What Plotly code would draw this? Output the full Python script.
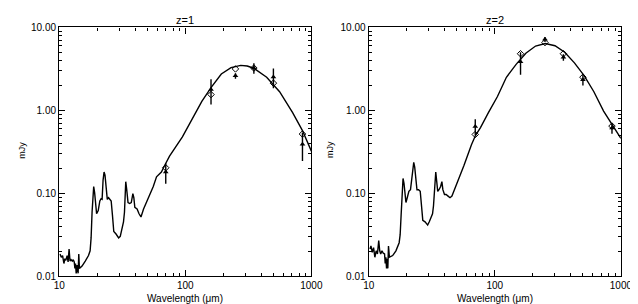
import plotly.graph_objects as go

# ---------------- data ----------------
bands = [70, 160, 250, 350, 500, 850]

# z = 1 panel
z1_diamond = [0.203, 1.55, 3.16, 3.24, 2.13, 0.518]
z1_triangle = [0.18, 1.78, 2.61, 3.24, 2.52, 0.39]
z1_err = [0.05, 0.6, 0.2, 0.47, 0.67, 0.145]

z1_model_wave = [10.15, 10.39, 10.64, 10.90, 11.09, 11.29, 11.56, 11.77, 11.98, 12.19,
                 12.41, 12.71, 12.93, 13.16, 13.32, 13.48, 13.64, 13.89, 14.13, 14.30,
                 14.47, 15.18, 16.10, 17.08, 17.59, 17.91, 18.23, 18.56, 18.78, 19.11,
                 19.45, 19.80, 20.40, 21.01, 21.51, 21.90, 22.29, 22.69, 23.09, 23.64,
                 24.07, 24.64, 25.24, 25.84, 26.46, 27.10, 28.24, 29.61, 30.50, 31.42,
                 32.36, 32.94, 33.72, 34.32, 35.15, 36.21, 37.30, 38.40, 39.09, 39.80,
                 41.48, 42.98, 44.53, 46.68, 49.53, 52.55, 55.75, 59.16, 64.64, 68.6,
                 75.0, 94.9, 113.3, 135.3, 161.6, 193.1, 230.5, 275.3, 309.9, 349.1,
                 442.1, 559.8, 710.1, 848.0, 1000.0]
z1_model_flux = [0.0185, 0.0169, 0.0177, 0.0142, 0.0162, 0.0155, 0.0177, 0.0148, 0.0212, 0.0152,
                 0.0158, 0.0152, 0.0158, 0.0148, 0.0124, 0.0142, 0.0108, 0.0136, 0.0108, 0.0185,
                 0.0124, 0.0132, 0.0152, 0.0177, 0.0202, 0.0289, 0.0590, 0.1009, 0.1206, 0.1009,
                 0.0646, 0.0565, 0.0617, 0.0807, 0.0859, 0.0844, 0.1442, 0.1802, 0.1648, 0.1009,
                 0.0844, 0.0883, 0.0844, 0.0807, 0.0540, 0.0346, 0.0322, 0.0289, 0.0302, 0.0361,
                 0.0452, 0.0590, 0.1379, 0.1103, 0.0772, 0.0752, 0.0772, 0.0991, 0.0883, 0.0675,
                 0.0646, 0.0565, 0.0517, 0.0646, 0.0786, 0.0965, 0.1206, 0.1576, 0.1802, 0.2157,
                 0.28, 0.48, 0.786, 1.283, 1.917, 2.745, 3.274, 3.49, 3.43, 3.22,
                 2.505, 1.677, 0.940, 0.574, 0.322]

# z = 2 panel
z2_diamond = [0.512, 4.82, 6.57, 4.82, 2.51, 0.646]
z2_triangle = [0.64, 3.85, 7.19, 4.36, 2.34, 0.612]
z2_err = [0.14, 1.16, 0.5, 0.4, 0.34, 0.09]

z2_model_wave = [10.24, 10.42, 10.67, 10.93, 11.19, 11.46, 11.73, 12.01, 12.23, 12.45,
                 12.75, 13.05, 13.36, 13.52, 13.68, 13.85, 14.01, 14.18, 14.35, 14.60,
                 15.49, 16.44, 17.44, 17.76, 18.07, 18.40, 18.72, 19.05, 19.40, 19.74,
                 20.21, 20.83, 21.45, 21.84, 22.36, 22.76, 23.17, 23.58, 24.14, 24.86,
                 25.62, 26.23, 26.85, 27.99, 29.35, 30.23, 31.14, 32.08, 32.65, 33.43,
                 34.03, 34.64, 35.26, 36.10, 37.18, 38.06, 38.74, 39.91, 41.11, 42.60,
                 44.14, 45.73, 47.67, 50.58, 53.65, 56.93, 59.35, 65.3, 70.4, 77.0,
                 89.0, 105.0, 123.6, 147.6, 176.3, 210.6, 251.4, 300.3, 358.5, 428.2,
                 511.3, 610.7, 729.3, 871.0, 1000.0]
z2_model_flux = [0.0212, 0.0231, 0.0194, 0.0221, 0.0169, 0.0202, 0.0185, 0.0269, 0.0202, 0.0185,
                 0.0202, 0.0189, 0.0185, 0.0142, 0.0169, 0.0124, 0.0162, 0.0124, 0.0231, 0.0169,
                 0.0177, 0.0202, 0.0253, 0.0316, 0.0540, 0.1009, 0.1508, 0.1319, 0.0923, 0.0772,
                 0.0883, 0.1055, 0.1103, 0.1442, 0.2061, 0.2355, 0.2061, 0.1576, 0.1103, 0.1103,
                 0.1055, 0.0706, 0.0472, 0.0452, 0.0413, 0.0452, 0.0517, 0.0565, 0.0706, 0.1319,
                 0.1802, 0.1379, 0.1055, 0.1103, 0.1206, 0.1379, 0.1103, 0.0965, 0.0965, 0.0923,
                 0.0883, 0.0923, 0.1103, 0.1379, 0.1723, 0.2154, 0.2575, 0.385, 0.50, 0.62,
                 0.94, 1.47, 2.505, 3.587, 4.893, 5.965, 6.396, 6.014, 5.026, 3.744,
                 2.622, 1.677, 0.981, 0.629, 0.46]

panel_titles = ["z=1", "z=2"]
x_tick_vals = [10, 100, 1000]
x_tick_text = ["10", "100", "1000"]
y_tick_vals = [0.01, 0.1, 1, 10]
y_tick_text = ["0.01", "0.10", "1.00", "10.00"]
x_title = "Wavelength (\u03bcm)"
y_title = "mJy"

# ---------------- figure ----------------
W, H = 638, 304
FONT = "Liberation Sans"
fig = go.Figure()

panels = [
    (z1_model_wave, z1_model_flux, z1_diamond, z1_triangle, z1_err, "x", "y"),
    (z2_model_wave, z2_model_flux, z2_diamond, z2_triangle, z2_err, "x2", "y2"),
]
for mw, mf, dia, tri, err, xa, ya in panels:
    fig.add_trace(go.Scatter(x=mw, y=mf, mode="lines", line=dict(color="black", width=1.4),
                             xaxis=xa, yaxis=ya, showlegend=False, hoverinfo="skip"))
    fig.add_trace(go.Scatter(x=bands, y=tri, mode="markers",
                             marker=dict(symbol="triangle-up", size=5, color="black"),
                             error_y=dict(type="data", array=err, color="black", thickness=1.4, width=0),
                             xaxis=xa, yaxis=ya, showlegend=False))
    fig.add_trace(go.Scatter(x=bands, y=dia, mode="markers",
                             marker=dict(symbol="diamond-open", size=5, color="black",
                                         line=dict(width=1, color="black")),
                             xaxis=xa, yaxis=ya, showlegend=False))

minor_x = [m * 10 ** e for e in (1, 2) for m in range(2, 10)]
minor_y = [m * 10 ** e for e in (-2, -1, 0) for m in range(2, 10)]

x_domains = [[46.5 / W, 306 / W], [365 / W, 624.5 / W]]
y_domain = [1 - 273 / H, 1 - 15 / H]

def xaxis(dom, anchor):
    return dict(type="log", range=[1, 3], domain=dom, anchor=anchor,
                tickmode="array", tickvals=x_tick_vals, ticktext=x_tick_text,
                ticks="inside", ticklen=6, tickwidth=1, tickcolor="black",
                minor=dict(tickmode="array", tickvals=minor_x, ticks="inside",
                           ticklen=3, tickwidth=1, tickcolor="black", showgrid=False),
                showline=True, linecolor="black", linewidth=1.3, mirror="allticks",
                showgrid=False, zeroline=False,
                tickfont=dict(family=FONT, size=10, color="black"))

def yaxis(anchor):
    return dict(type="log", range=[-2, 1], domain=y_domain, anchor=anchor,
                tickmode="array", tickvals=y_tick_vals, ticktext=y_tick_text,
                ticks="inside", ticklen=6, tickwidth=1, tickcolor="black",
                minor=dict(tickmode="array", tickvals=minor_y, ticks="inside",
                           ticklen=3, tickwidth=1, tickcolor="black", showgrid=False),
                showline=True, linecolor="black", linewidth=1.3, mirror="allticks",
                showgrid=False, zeroline=False,
                tickfont=dict(family=FONT, size=10, color="black"))

fig.update_layout(
    width=W, height=H, margin=dict(l=0, r=0, t=0, b=0),
    paper_bgcolor="white", plot_bgcolor="white",
    xaxis=xaxis(x_domains[0], "y"), yaxis=yaxis("x"),
    xaxis2=xaxis(x_domains[1], "y2"), yaxis2=yaxis("x2"),
)

ann = []
for i, dom in enumerate(x_domains):
    cx = (dom[0] + dom[1]) / 2
    ann.append(dict(text=panel_titles[i], x=cx, y=1 - 7 / H, xref="paper", yref="paper",
                    showarrow=False, xanchor="center", yanchor="middle",
                    font=dict(family=FONT, size=11, color="black")))
    ann.append(dict(text=x_title, x=cx, y=1 - 296 / H, xref="paper", yref="paper",
                    showarrow=False, xanchor="center", yanchor="middle",
                    font=dict(family=FONT, size=10, color="black")))
    ann.append(dict(text=y_title, x=(1 if i == 0 else 318) / W, y=1 - 142 / H,
                    xref="paper", yref="paper", showarrow=False, textangle=-90,
                    xanchor="left", yanchor="middle",
                    font=dict(family=FONT, size=9, color="black")))
fig.update_layout(annotations=ann)

fig.write_html("out.html")
